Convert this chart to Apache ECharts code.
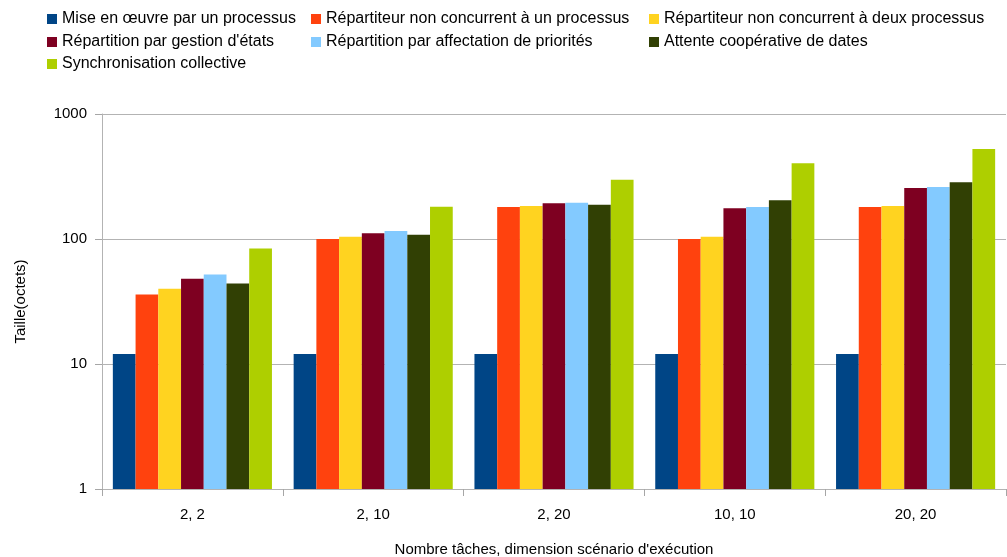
<!DOCTYPE html>
<html><head><meta charset="utf-8">
<script src="https://cdn.jsdelivr.net/npm/echarts@6/dist/echarts.min.js"></script>
<style>html,body{margin:0;padding:0;background:#fff}#c{width:1007px;height:557px}</style>
</head><body><div id="c"></div>
<script>
const categories = ['2, 2', '2, 10', '2, 20', '10, 10', '20, 20'];
const seriesNames = [
  'Mise en œuvre par un processus',
  'Répartiteur non concurrent à un processus',
  'Répartiteur non concurrent à deux processus',
  'Répartition par gestion d\'états',
  'Répartition par affectation de priorités',
  'Attente coopérative de dates',
  'Synchronisation collective'
];
const miseEnOeuvre = [12, 12, 12, 12, 12];
const repartiteurUn = [36, 100, 180, 100, 180];
const repartiteurDeux = [40, 104, 184, 104, 184];
const gestionEtats = [48, 111, 193, 176, 256];
const affectationPriorites = [52, 116, 195, 180, 261];
const attenteDates = [44, 108, 188, 204, 284];
const synchroCollective = [84, 181, 298, 403, 525];
const yTicks = [1, 10, 100, 1000];
const colors = ['#004586', '#ff420e', '#ffd320', '#7e0021', '#83caff', '#314004', '#aecf00'];
const allData = [miseEnOeuvre, repartiteurUn, repartiteurDeux, gestionEtats, affectationPriorites, attenteDates, synchroCollective];

const legendPos = [
  [47, 11], [311, 11], [649, 11],
  [47, 34], [311, 34], [649, 34],
  [47, 56]
];
const font = 'Liberation Sans, Arial, sans-serif';
const chart = echarts.init(document.getElementById('c'));
chart.setOption({
  animation: false,
  color: colors,
  legend: seriesNames.map((n, i) => ({
    data: [n], left: legendPos[i][0], top: legendPos[i][1],
    itemWidth: 10, itemHeight: 10, itemGap: 4, padding: 0,
    icon: 'rect',
    textStyle: { fontFamily: font, fontSize: 16, color: '#000' }
  })),
  grid: { left: 102, right: 1, top: 114, bottom: 68, outerBoundsMode: 'none', containLabel: false },
  xAxis: {
    type: 'category', data: categories,
    name: 'Nombre tâches, dimension scénario d\'exécution',
    nameLocation: 'middle', nameGap: 53,
    nameTextStyle: { fontFamily: font, fontSize: 15, color: '#000' },
    axisLine: { lineStyle: { color: '#b3b3b3' } },
    axisTick: { show: true, length: 7, lineStyle: { color: '#a6a6a6' } },
    axisLabel: { fontFamily: font, fontSize: 15, color: '#000', margin: 18 }
  },
  yAxis: {
    type: 'log', logBase: 10, min: yTicks[0], max: yTicks[yTicks.length - 1],
    name: 'Taille(octets)', nameLocation: 'middle', nameGap: 74, nameRotate: 90,
    nameTextStyle: { fontFamily: font, fontSize: 15, color: '#000' },
    axisLine: { show: true, lineStyle: { color: '#b3b3b3' } },
    axisTick: { show: true, inside: false, length: 7, lineStyle: { color: '#a6a6a6' } },
    axisLabel: { fontFamily: font, fontSize: 15, color: '#000', margin: 15,
      formatter: v => String(Math.round(v)) },
    splitLine: { lineStyle: { color: '#b3b3b3' } },
    minorTick: { show: false }
  },
  series: seriesNames.map((n, i) => ({
    name: n, type: 'bar', data: allData[i],
    barGap: '0%', barCategoryGap: '12%',
    itemStyle: { color: colors[i] }
  }))
});
</script></body></html>
